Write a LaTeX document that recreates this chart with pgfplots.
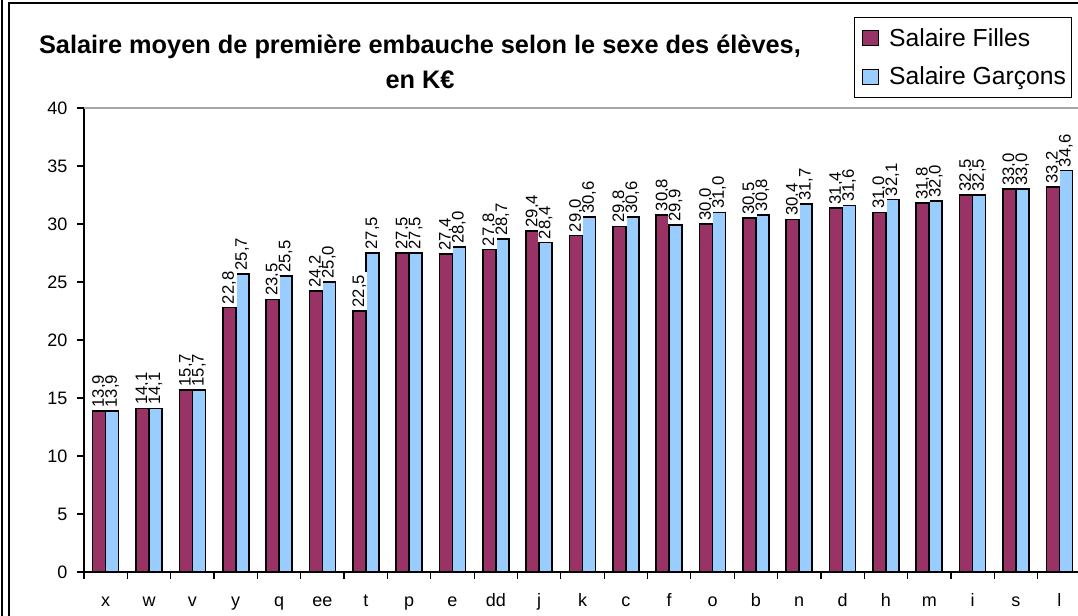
\documentclass[border=0pt]{standalone}
\usepackage{pgfplots}
\usepackage{pgfplotstable}
\pgfplotsset{compat=1.18}
\usepackage{fontspec}
\setmainfont{Liberation Sans}
\definecolor{filles}{HTML}{993366}
\definecolor{garcons}{HTML}{99CCFF}

% salaire moyen de premiere embauche (K euros)
\pgfplotstableread{
cat F G
x 13.9 13.9
w 14.1 14.1
v 15.7 15.7
y 22.8 25.7
q 23.5 25.5
ee 24.2 25.0
t 22.5 27.5
p 27.5 27.5
e 27.4 28.0
dd 27.8 28.7
j 29.4 28.4
k 29.0 30.6
c 29.8 30.6
f 30.8 29.9
o 30.0 31.0
b 30.5 30.8
n 30.4 31.7
d 31.4 31.6
h 31.0 32.1
m 31.8 32.0
i 32.5 32.5
s 33.0 33.0
l 33.2 34.6
}\salaires

\begin{document}
\begin{tikzpicture}
\useasboundingbox (0,0) rectangle (808.5pt,462pt);
\fill[white] (0,0) rectangle (808.5pt,462pt);
\clip (0,0) rectangle (808.5pt,462pt);
% cadre et titre, en pixels depuis le coin haut gauche
\begin{scope}[x=0.75pt, y=-0.75pt, yshift=462pt]
\draw[line width=1pt] (2,-5) -- (2,630);
\draw[line width=1pt] (9,630) -- (9,3) -- (1100,3);
\node[font=\bfseries\fontsize{19}{26}\selectfont, align=center] at (420,62)
  {Salaire moyen de première embauche selon le sexe des élèves,\\en K€};
\end{scope}
\begin{axis}[
  at={(63pt,33pt)}, anchor=south west,
  scale only axis, width=747.75pt, height=348pt,
  xmin=-0.5, xmax=22.5, ymin=0, ymax=40,
  clip=false,
  axis x line*=bottom, axis y line*=left,
  axis line style={-, black, line width=0.9pt},
  ytick={0,5,...,40},
  xtick={-0.5,0.5,...,22.5},
  x tick label as interval,
  xticklabels from table={\salaires}{cat},
  tick align=outside,
  major tick length=5.25pt,
  tick style={black, line width=0.9pt},
  /pgf/number format/assume math mode=true,
  tick label style={font=\fontsize{13.5}{15}\selectfont},
  yticklabel style={inner sep=0pt, xshift=-7pt},
  xticklabel style={anchor=base, inner sep=0pt, yshift=-21pt},
  ybar=0pt, bar width=9.75pt,
  nodes near coords={\pgfmathprintnumber[fixed,fixed zerofill,precision=1,use comma]{\pgfplotspointmeta}},
  nodes near coords style={rotate=90, anchor=west, font=\fontsize{12.5}{13}\selectfont,
    fill=white, inner xsep=2pt, inner ysep=0.3pt},
  legend style={at={(0.772,1.196)}, anchor=north west, draw=black, line width=0.75pt,
    font=\fontsize{18.5}{22}\selectfont, inner xsep=2pt, inner ysep=6pt, row sep=10pt},
  legend cell align=left,
  legend image code/.code={\path (0pt,0pt) (21pt,0pt);
    \draw[#1, draw=black, line width=0.75pt] (4pt,-5.5pt) rectangle (15.5pt,5.5pt);},
]
\addplot[fill=filles, draw=black, line width=1.2pt] table[x expr=\coordindex, y=F] {\salaires};
\addlegendentry{Salaire Filles}
\addplot[fill=garcons, draw=black, line width=1.2pt] table[x expr=\coordindex, y=G] {\salaires};
\addlegendentry{Salaire Garçons}
\draw[gray!70, line width=1pt] (rel axis cs:0,1) -- (rel axis cs:1.1,1);
\end{axis}
\end{tikzpicture}
\end{document}
